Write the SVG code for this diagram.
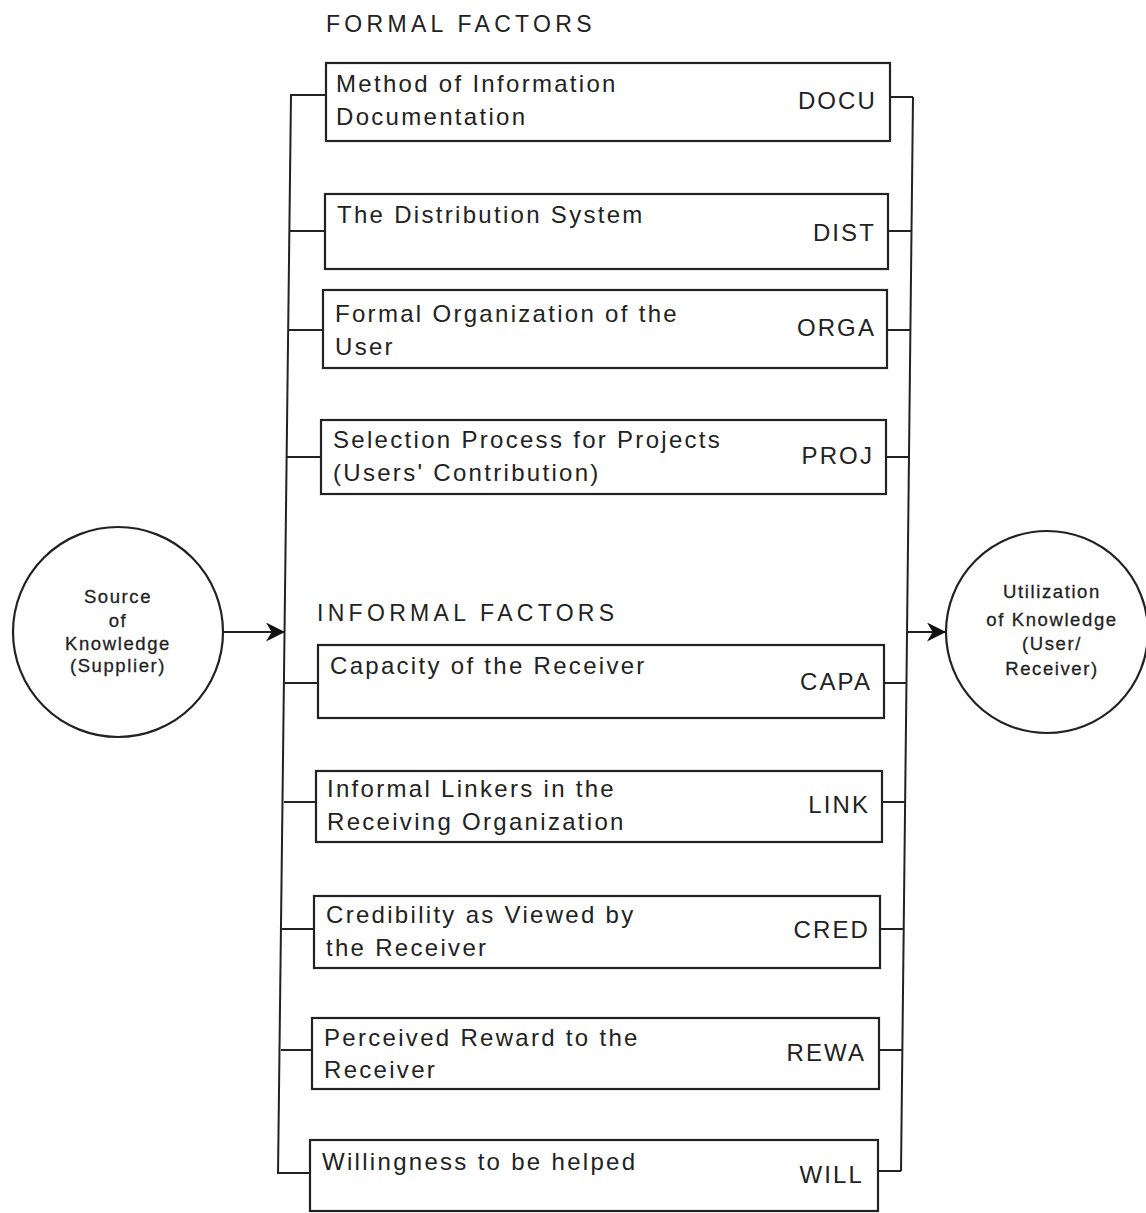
<svg xmlns="http://www.w3.org/2000/svg" width="1146" height="1213" viewBox="0 0 1146 1213">
<defs>
<style>
.box{fill:#fff;stroke:#222;stroke-width:2.2}
.ln{fill:none;stroke:#222;stroke-width:2}
.t{font-family:"Liberation Sans",Arial,sans-serif;font-size:24px;fill:#222;letter-spacing:2.3px}
.c{font-family:"Liberation Sans",Arial,sans-serif;font-size:24px;fill:#222;letter-spacing:2.1px;text-anchor:end}
.h{font-family:"Liberation Sans",Arial,sans-serif;font-size:23px;fill:#222;letter-spacing:4.3px}
.ct{font-family:"Liberation Sans",Arial,sans-serif;font-size:18.5px;fill:#222;text-anchor:middle;letter-spacing:1.6px;stroke:#222;stroke-width:0.3}
</style>
<marker id="ah" viewBox="0 0 10 10" refX="10" refY="5" markerWidth="25" markerHeight="19" markerUnits="userSpaceOnUse" orient="auto">
<path d="M0,0 L10,5 L0,10 L3,5 Z" fill="#111"/>
</marker>
</defs>
<rect width="1146" height="1213" fill="#fff"/>
<text class="h" x="326" y="32">FORMAL  FACTORS</text>
<text class="h" x="317" y="621">INFORMAL FACTORS</text>
<g id="connectors">
<line class="ln" x1="291" y1="95" x2="278" y2="1174"/>
<line class="ln" x1="913" y1="97" x2="901" y2="1171"/>
<line class="ln" x1="290" y1="95" x2="326" y2="95"/>
<line class="ln" x1="890" y1="97" x2="913" y2="97"/>
<line class="ln" x1="289" y1="231" x2="325" y2="231"/>
<line class="ln" x1="888" y1="231" x2="912" y2="231"/>
<line class="ln" x1="288" y1="330" x2="323" y2="330"/>
<line class="ln" x1="887" y1="330" x2="911" y2="330"/>
<line class="ln" x1="287" y1="457" x2="321" y2="457"/>
<line class="ln" x1="886" y1="457" x2="909" y2="457"/>
<line class="ln" x1="285" y1="683" x2="318" y2="683"/>
<line class="ln" x1="884" y1="683" x2="907" y2="683"/>
<line class="ln" x1="284" y1="802" x2="316" y2="802"/>
<line class="ln" x1="882" y1="802" x2="906" y2="802"/>
<line class="ln" x1="282" y1="929" x2="314" y2="929"/>
<line class="ln" x1="880" y1="929" x2="904" y2="929"/>
<line class="ln" x1="281" y1="1050" x2="312" y2="1050"/>
<line class="ln" x1="879" y1="1050" x2="903" y2="1050"/>
<line class="ln" x1="278" y1="1173" x2="310" y2="1173"/>
<line class="ln" x1="878" y1="1171" x2="901" y2="1171"/>
<line class="ln" x1="223" y1="632" x2="285" y2="632" marker-end="url(#ah)"/>
<line class="ln" x1="907" y1="632" x2="946" y2="632" marker-end="url(#ah)"/>
</g>
<g id="source">
<circle class="box" cx="118" cy="632" r="105"/>
<text class="ct" x="118" y="603">Source</text>
<text class="ct" x="118" y="627">of</text>
<text class="ct" x="118" y="650">Knowledge</text>
<text class="ct" x="118" y="672">(Supplier)</text>
</g>
<g id="utilization">
<circle class="box" cx="1047" cy="632" r="101"/>
<text class="ct" x="1052" y="598">Utilization</text>
<text class="ct" x="1052" y="626">of Knowledge</text>
<text class="ct" x="1052" y="650">(User/</text>
<text class="ct" x="1052" y="675">Receiver)</text>
</g>
<g id="docu">
<rect class="box" x="326" y="63" width="564" height="78"/>
<text class="t" x="336" y="92">Method of Information</text>
<text class="t" x="336" y="125">Documentation</text>
<text class="c" x="877" y="109">DOCU</text>
</g>
<g id="dist">
<rect class="box" x="325" y="194" width="563" height="75"/>
<text class="t" x="337" y="223">The Distribution System</text>
<text class="c" x="876" y="241">DIST</text>
</g>
<g id="orga">
<rect class="box" x="323" y="290" width="564" height="78"/>
<text class="t" x="335" y="322">Formal Organization of the</text>
<text class="t" x="335" y="355">User</text>
<text class="c" x="876" y="336">ORGA</text>
</g>
<g id="proj">
<rect class="box" x="321" y="420" width="565" height="74"/>
<text class="t" x="333" y="448">Selection Process for Projects</text>
<text class="t" x="333" y="481">(Users' Contribution)</text>
<text class="c" x="874" y="464">PROJ</text>
</g>
<g id="capa">
<rect class="box" x="318" y="645" width="566" height="73"/>
<text class="t" x="330" y="674">Capacity of the Receiver</text>
<text class="c" x="872" y="690">CAPA</text>
</g>
<g id="link">
<rect class="box" x="316" y="771" width="566" height="71"/>
<text class="t" x="327" y="797">Informal Linkers in the</text>
<text class="t" x="327" y="830">Receiving Organization</text>
<text class="c" x="870" y="813">LINK</text>
</g>
<g id="cred">
<rect class="box" x="314" y="896" width="566" height="72"/>
<text class="t" x="326" y="923">Credibility as Viewed by</text>
<text class="t" x="326" y="956">the Receiver</text>
<text class="c" x="870" y="938">CRED</text>
</g>
<g id="rewa">
<rect class="box" x="312" y="1018" width="567" height="71"/>
<text class="t" x="324" y="1046">Perceived Reward to the</text>
<text class="t" x="324" y="1078">Receiver</text>
<text class="c" x="866" y="1061">REWA</text>
</g>
<g id="will">
<rect class="box" x="310" y="1140" width="568" height="71"/>
<text class="t" x="322" y="1170">Willingness to be helped</text>
<text class="c" x="864" y="1183">WILL</text>
</g>
</svg>
